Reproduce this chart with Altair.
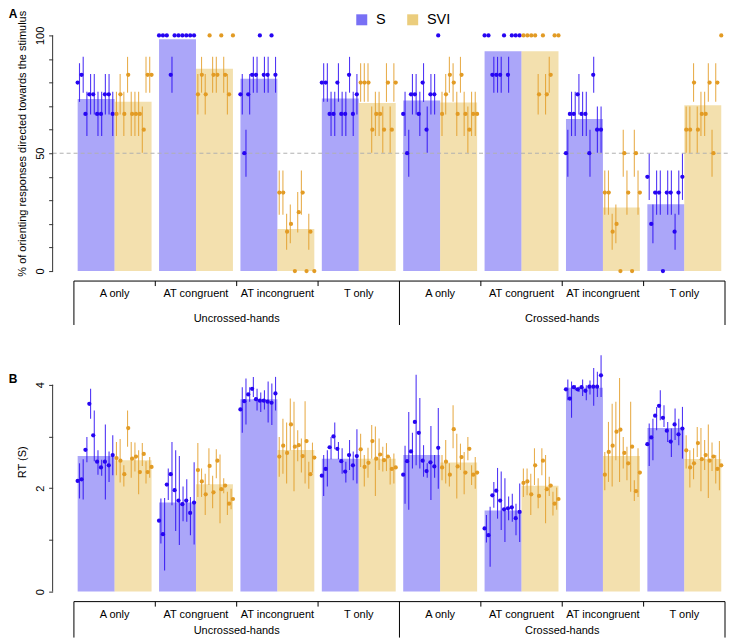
import altair as alt
import pandas as pd

postures = ["Uncrossed-hands", "Crossed-hands"]
conditions = ["A only", "AT congruent", "AT incongruent", "T only"]
groups = ["S", "SVI"]
n_part = 10

# order of cells: Uncrossed A, ATc, ATi, T, Crossed A, ATc, ATi, T ; 10 participants each
pct_S = [
    [80, 83.3, 66.7, 75, 75, 66.7, 66.7, 75, 75, 66.7],
    [100, 100, 100, 83.3, 100, 100, 100, 100, 100, 100],
    [75, 50, 75, 83.3, 83.3, 100, 83.3, 83.3, 100, 83.3],
    [80, 80, 66.7, 66.7, 80, 66.7, 66.7, 83.3, 66.7, 75],
    [66.7, 50, 75, 75, 66.7, 80, 60, 75, 75, 100],
    [100, 100, 83.3, 83.3, 83.3, 100, 83.3, 100, 100, 100],
    [50, 66.7, 66.7, 75, 66.7, 66.7, 50, 83.3, 60, 60],
    [40, 20, 33.3, 33.3, 0, 33.3, 33.3, 16.7, 33.3, 40],
]
pct_S_err = [
    [8.2, 7.6, 9.4, 8.6, 8.6, 9.4, 9.4, 8.6, 8.6, 9.4],
    [0, 0, 0, 7.6, 0, 0, 0, 0, 0, 0],
    [8.6, 10, 8.6, 7.6, 7.6, 0, 7.6, 7.6, 0, 7.6],
    [8.2, 8.2, 9.4, 9.4, 8.2, 9.4, 9.4, 7.6, 9.4, 8.6],
    [9.4, 10, 8.6, 8.6, 9.4, 8.2, 9.8, 8.6, 8.6, 0],
    [0, 0, 7.6, 7.6, 7.6, 0, 7.6, 0, 0, 0],
    [10, 9.4, 9.4, 8.6, 9.4, 9.4, 10, 7.6, 9.8, 9.8],
    [9.8, 8.2, 9.4, 9.4, 0, 9.4, 9.4, 7.6, 9.4, 9.8],
]
pct_SVI = [
    [66.7, 75, 66.7, 83.3, 66.7, 66.7, 66.7, 60, 83.3, 83.3],
    [75, 83.3, 75, 100, 83.3, 83.3, 100, 83.3, 75, 100],
    [33.3, 33.3, 16.7, 20, 0, 25, 33.3, 0, 16.7, 0],
    [80, 80, 80, 60, 66.7, 66.7, 60, 80, 60, 80],
    [66.7, 75, 83.3, 80, 66.7, 83.3, 66.7, 60, 66.7, 66.7],
    [100, 100, 100, 100, 75, 100, 75, 83.3, 100, 100],
    [33.3, 33.3, 16.7, 20, 0, 50, 33.3, 0, 50, 33.3],
    [60, 60, 80, 60, 66.7, 66.7, 80, 50, 80, 100],
]
pct_SVI_err = [
    [9.4, 8.6, 9.4, 7.6, 9.4, 9.4, 9.4, 9.8, 7.6, 7.6],
    [8.6, 7.6, 8.6, 0, 7.6, 7.6, 0, 7.6, 8.6, 0],
    [9.4, 9.4, 7.6, 8.2, 0, 8.6, 9.4, 0, 7.6, 0],
    [8.2, 8.2, 8.2, 9.8, 9.4, 9.4, 9.8, 8.2, 9.8, 8.2],
    [9.4, 8.6, 7.6, 8.2, 9.4, 7.6, 9.4, 9.8, 9.4, 9.4],
    [0, 0, 0, 0, 8.6, 0, 8.6, 7.6, 0, 0],
    [9.4, 9.4, 7.6, 8.2, 0, 10, 9.4, 0, 10, 9.4],
    [9.8, 9.8, 8.2, 9.8, 9.4, 9.4, 8.2, 10, 8.2, 0],
]

rt_S = [
    [2.14, 2.17, 2.74, 3.63, 3.02, 2.51, 2.40, 2.51, 2.44, 2.64],
    [1.37, 1.11, 2.07, 2.27, 1.96, 1.76, 1.69, 1.76, 1.52, 1.72],
    [3.52, 3.68, 3.81, 3.92, 3.72, 3.69, 3.69, 3.67, 3.65, 3.83],
    [2.24, 2.37, 2.79, 3.00, 2.76, 2.52, 2.32, 2.64, 2.44, 2.62],
    [2.26, 2.52, 2.71, 3.28, 3.07, 2.53, 2.33, 2.50, 2.42, 2.78],
    [1.22, 1.09, 1.86, 1.95, 1.76, 1.59, 1.61, 1.63, 1.42, 1.54],
    [3.91, 3.73, 3.95, 3.91, 3.95, 3.88, 3.96, 3.96, 3.96, 4.18],
    [2.85, 2.98, 3.40, 3.59, 3.36, 3.11, 2.90, 3.23, 3.04, 3.15],
]
rt_S_lo = [
    [1.80, 1.78, 2.50, 3.34, 2.52, 2.26, 2.24, 1.78, 2.12, 2.25],
    [0.93, 0.41, 1.77, 1.67, 1.17, 0.90, 1.36, 1.35, 1.09, 0.91],
    [3.07, 3.23, 3.67, 3.76, 3.50, 3.47, 3.52, 3.27, 3.22, 3.50],
    [1.85, 2.03, 2.56, 2.75, 2.56, 2.28, 2.11, 2.35, 2.15, 2.09],
    [1.70, 1.58, 2.38, 2.44, 2.38, 2.22, 2.20, 1.77, 2.20, 1.99],
    [0.95, 0.48, 1.62, 1.41, 1.19, 0.96, 1.38, 1.35, 1.09, 0.96],
    [3.70, 3.36, 3.89, 3.86, 3.78, 3.70, 3.81, 3.59, 3.76, 3.76],
    [2.43, 2.54, 3.12, 3.31, 3.18, 2.89, 2.60, 2.93, 2.83, 2.57],
]
rt_S_hi = [
    [2.48, 2.56, 2.99, 3.92, 3.50, 2.73, 2.55, 3.23, 2.71, 3.02],
    [1.80, 1.81, 2.38, 2.89, 2.73, 2.62, 2.03, 2.17, 1.83, 2.50],
    [3.95, 4.12, 3.95, 4.15, 3.92, 3.85, 3.89, 4.06, 4.02, 4.15],
    [2.64, 2.73, 2.99, 3.27, 2.89, 2.77, 2.51, 2.93, 2.71, 3.14],
    [2.82, 3.47, 3.07, 4.19, 3.74, 2.83, 2.48, 3.20, 2.64, 3.55],
    [1.48, 1.64, 2.12, 2.39, 2.32, 2.19, 1.84, 1.89, 1.70, 2.09],
    [4.10, 4.06, 3.99, 3.96, 4.10, 3.99, 4.08, 4.32, 4.25, 4.57],
    [3.25, 3.34, 3.57, 3.89, 3.60, 3.28, 3.15, 3.54, 3.34, 3.57],
]
rt_SVI = [
    [2.58, 2.53, 2.27, 3.16, 2.57, 2.61, 2.31, 2.66, 2.31, 2.41],
    [2.35, 2.13, 1.88, 2.43, 1.92, 2.53, 1.98, 2.05, 1.70, 1.79],
    [2.61, 2.82, 2.68, 3.23, 2.80, 2.83, 2.62, 2.91, 2.27, 2.59],
    [2.75, 2.41, 2.49, 2.91, 2.57, 2.65, 2.54, 2.61, 2.37, 2.40],
    [2.40, 2.51, 2.26, 3.14, 2.42, 2.60, 2.30, 2.76, 2.26, 2.30],
    [2.10, 2.13, 1.88, 2.44, 1.85, 2.53, 1.98, 2.05, 1.70, 1.79],
    [2.26, 2.70, 2.82, 3.09, 3.13, 2.68, 2.48, 2.80, 1.94, 2.30],
    [2.73, 2.40, 2.48, 2.87, 2.56, 2.64, 2.53, 2.61, 2.37, 2.44],
]
rt_SVI_lo = [
    [2.25, 2.11, 2.03, 2.80, 2.20, 2.32, 1.88, 2.43, 2.09, 2.20],
    [1.83, 1.83, 1.48, 2.06, 1.61, 2.19, 1.32, 1.90, 1.48, 1.59],
    [2.22, 2.28, 2.09, 2.73, 1.94, 2.52, 2.30, 2.09, 1.99, 2.30],
    [2.41, 2.03, 2.20, 2.57, 1.85, 2.35, 2.32, 2.33, 2.07, 2.09],
    [2.15, 2.09, 2.03, 2.77, 1.80, 2.35, 1.88, 2.54, 2.06, 1.99],
    [1.83, 1.86, 1.48, 2.06, 1.61, 2.25, 1.32, 1.85, 1.47, 1.58],
    [1.96, 2.12, 2.03, 2.54, 2.12, 2.38, 2.15, 1.93, 1.75, 1.83],
    [2.38, 2.01, 2.17, 2.60, 1.94, 2.35, 1.81, 2.33, 2.09, 1.96],
]
rt_SVI_hi = [
    [2.89, 2.95, 2.44, 3.50, 2.89, 2.88, 2.73, 2.87, 2.52, 2.60],
    [2.87, 2.38, 2.28, 2.77, 2.24, 2.75, 2.65, 2.19, 1.93, 1.99],
    [2.99, 3.34, 3.27, 3.73, 3.67, 3.12, 2.96, 3.68, 2.51, 2.88],
    [3.05, 2.64, 2.78, 3.22, 3.19, 2.96, 2.80, 2.87, 2.60, 2.67],
    [2.64, 2.93, 2.48, 3.60, 3.05, 2.86, 2.70, 2.99, 2.44, 2.60],
    [2.38, 2.38, 2.28, 2.77, 2.19, 2.77, 2.64, 2.22, 1.93, 2.01],
    [2.70, 3.28, 3.63, 3.67, 4.13, 2.99, 2.80, 3.67, 2.15, 2.77],
    [3.02, 2.73, 2.77, 3.18, 3.16, 2.93, 3.23, 2.88, 2.64, 2.91],
]

pct_ticks = list(range(0, 101, 10))
pct_shown = [0, 50, 100]
rt_ticks = [0, 1, 2, 3, 4]
rt_shown = [0, 2, 4]

FONT = "Liberation Sans"
BAR_COLORS = ["#7870f5", "#ebcd7d"]
PT_COLORS = ["#2605f2", "#e29b24"]

cells = [f"{p}|{c}" for p in postures for c in conditions]
slots = [f"{g}{i}" for g in groups for i in range(n_part)]

W = 652
PI = 0.092
HALF_GAP = PI * (W / len(cells)) / 2
AXIS_OFF = 21.3

x_scale = alt.Scale(domain=cells, paddingInner=PI, paddingOuter=PI / 2)


def long_table(vS, loS, hiS, vV, loV, hiV):
    rows = []
    for k, cell in enumerate(cells):
        for g, v, lo, hi in (("S", vS, loS, hiS), ("SVI", vV, loV, hiV)):
            for i in range(n_part):
                rows.append({"cell": cell, "group": g, "slot": f"{g}{i}",
                             "value": v[k][i], "lo": lo[k][i], "hi": hi[k][i]})
    return pd.DataFrame(rows)


pct_S_lo = [[v - e for v, e in zip(a, b)] for a, b in zip(pct_S, pct_S_err)]
pct_S_hi = [[v + e for v, e in zip(a, b)] for a, b in zip(pct_S, pct_S_err)]
pct_V_lo = [[v - e for v, e in zip(a, b)] for a, b in zip(pct_SVI, pct_SVI_err)]
pct_V_hi = [[v + e for v, e in zip(a, b)] for a, b in zip(pct_SVI, pct_SVI_err)]

dfA = long_table(pct_S, pct_S_lo, pct_S_hi, pct_SVI, pct_V_lo, pct_V_hi)
dfB = long_table(rt_S, rt_S_lo, rt_S_hi, rt_SVI, rt_SVI_lo, rt_SVI_hi)

label_df = pd.DataFrame({"cell": cells, "cond": conditions * 2})
posture_df = pd.DataFrame({"cell": [cells[2], cells[6]], "posture": postures})
tick_df = pd.DataFrame({"cell": [cells[i] for i in (1, 2, 3, 5, 6, 7)]})
frame_df = pd.DataFrame({"cell": [cells[0], cells[4]]})
one = pd.DataFrame({"k": [0]})


def panel(df, y_domain, ticks, shown, title, title_y, H, letter, letter_y,
          table_y, post_dy, ref_value=None, show_legend=False):
    y_scale = alt.Scale(domain=y_domain, nice=False, zero=False)
    X = alt.X("cell:N", scale=x_scale, axis=None)
    X0 = alt.X("cell:N", scale=x_scale, axis=None, bandPosition=0)
    axis = alt.Axis(
        values=ticks, labelExpr=f"indexof({shown}, datum.value) >= 0 ? datum.label : ''",
        domain=False, grid=False, offset=AXIS_OFF, tickSize=4, tickColor="#333",
        tickWidth=1, labelAngle=270, labelAlign="center", labelBaseline="bottom",
        labelPadding=3, labelFontSize=11, labelColor="#000", labelFont=FONT,
        labelFlush=False, labelOverlap=False,
        titleAngle=270, titleX=-25, titleY=title_y, titleFontSize=11,
        titleFontWeight="normal", titleColor="#000", titleFont=FONT,
        titleBaseline="bottom", titleAlign="center")

    def Y(field):
        return alt.Y(field, scale=y_scale, axis=axis, title=title)

    if show_legend:
        leg = alt.Legend(orient="none", legendX=281, legendY=3, direction="horizontal",
                         title=None, symbolType="square", symbolSize=121, symbolOpacity=1,
                         symbolStrokeWidth=0, labelFontSize=14.5, labelFont=FONT,
                         labelColor="#000", labelOffset=7, columnPadding=19, padding=0)
    else:
        leg = None
    bars = alt.Chart(df).mark_bar(opacity=0.62).encode(
        x=X,
        xOffset=alt.XOffset("group:N", scale=alt.Scale(domain=groups, paddingInner=0, paddingOuter=0)),
        y=Y("mean(value):Q"),
        color=alt.Color("group:N", scale=alt.Scale(domain=groups, range=BAR_COLORS), legend=leg),
    )
    slot_off = alt.XOffset("slot:N", scale=alt.Scale(domain=slots, paddingInner=0, paddingOuter=0))
    pt_color = alt.Color("group:N", scale=alt.Scale(domain=groups, range=PT_COLORS), legend=None)
    errs = alt.Chart(df).mark_rule(strokeWidth=1.1, opacity=0.8).encode(
        x=X, xOffset=slot_off, y=Y("lo:Q"), y2="hi:Q", color=pt_color)
    pts = alt.Chart(df).mark_circle(size=18, opacity=1).encode(
        x=X, xOffset=slot_off, y=Y("value:Q"), color=pt_color)
    axis_line = alt.Chart(pd.DataFrame({"a": [ticks[0]], "b": [ticks[-1]]})).mark_rule(
        color="#333", strokeWidth=1).encode(
        x=alt.value(-AXIS_OFF), y=Y("a:Q"), y2="b:Q")
    layers = [bars]
    if ref_value is not None:
        layers.append(alt.Chart(pd.DataFrame({"v": [ref_value]})).mark_rule(
            color="#b0b0b0", strokeDash=[4, 3], strokeWidth=1).encode(
            y=Y("v:Q"), x=alt.value(-AXIS_OFF), x2=alt.value(W + 4)))
    layers += [errs, pts, axis_line]
    # table under the bars
    hline = alt.Chart(one).mark_rule(color="#000", strokeWidth=1).encode(
        x=alt.value(0), x2=alt.value(W), y=alt.value(table_y))
    ticks_l = alt.Chart(tick_df).mark_rule(color="#000", strokeWidth=1, xOffset=-HALF_GAP).encode(
        x=X0, y=alt.value(table_y), y2=alt.value(table_y + 5))
    frame_l = alt.Chart(frame_df).mark_rule(color="#000", strokeWidth=1, xOffset=-HALF_GAP).encode(
        x=X0, y=alt.value(table_y), y2=alt.value(H))
    frame_r = alt.Chart(one).mark_rule(color="#000", strokeWidth=1).encode(
        x=alt.value(W), y=alt.value(table_y), y2=alt.value(H))
    cond_t = alt.Chart(label_df).mark_text(fontSize=11, font=FONT, color="#000",
                                           baseline="middle").encode(
        x=X, y=alt.value(table_y + 13), text="cond:N")
    post_t = alt.Chart(posture_df).mark_text(fontSize=11, font=FONT, color="#000",
                                             baseline="middle", dx=-HALF_GAP).encode(
        x=X0, y=alt.value(table_y + post_dy), text="posture:N")
    letter_t = alt.Chart(pd.DataFrame({"t": [letter]})).mark_text(
        fontSize=12, font=FONT, fontWeight="bold", color="#000", align="left",
        baseline="top").encode(x=alt.value(-65.3), y=alt.value(letter_y), text="t:N")
    layers += [hline, ticks_l, frame_l, frame_r, cond_t, post_t, letter_t]
    return alt.layer(*layers).resolve_scale(
        xOffset="independent", color="independent").properties(width=W, height=H)


chartA = panel(dfA, [-22.88, 111.02], pct_ticks, pct_shown,
               "% of orienting responses directed towards the stimulus", 134, 316,
               "A", 0, 272, 38, ref_value=50, show_legend=True)
chartB = panel(dfB, [-0.888, 4.593], rt_ticks, rt_shown, "RT (S)", 108, 284,
               "B", 20, 248, 29)

chart = alt.vconcat(chartA, chartB, spacing=28).properties(
    padding={"left": 0, "top": 0, "right": 0, "bottom": 0}
).configure(font=FONT).configure_view(stroke=None)

chart.save("out.html", embed_options={"renderer": "svg", "actions": False})
